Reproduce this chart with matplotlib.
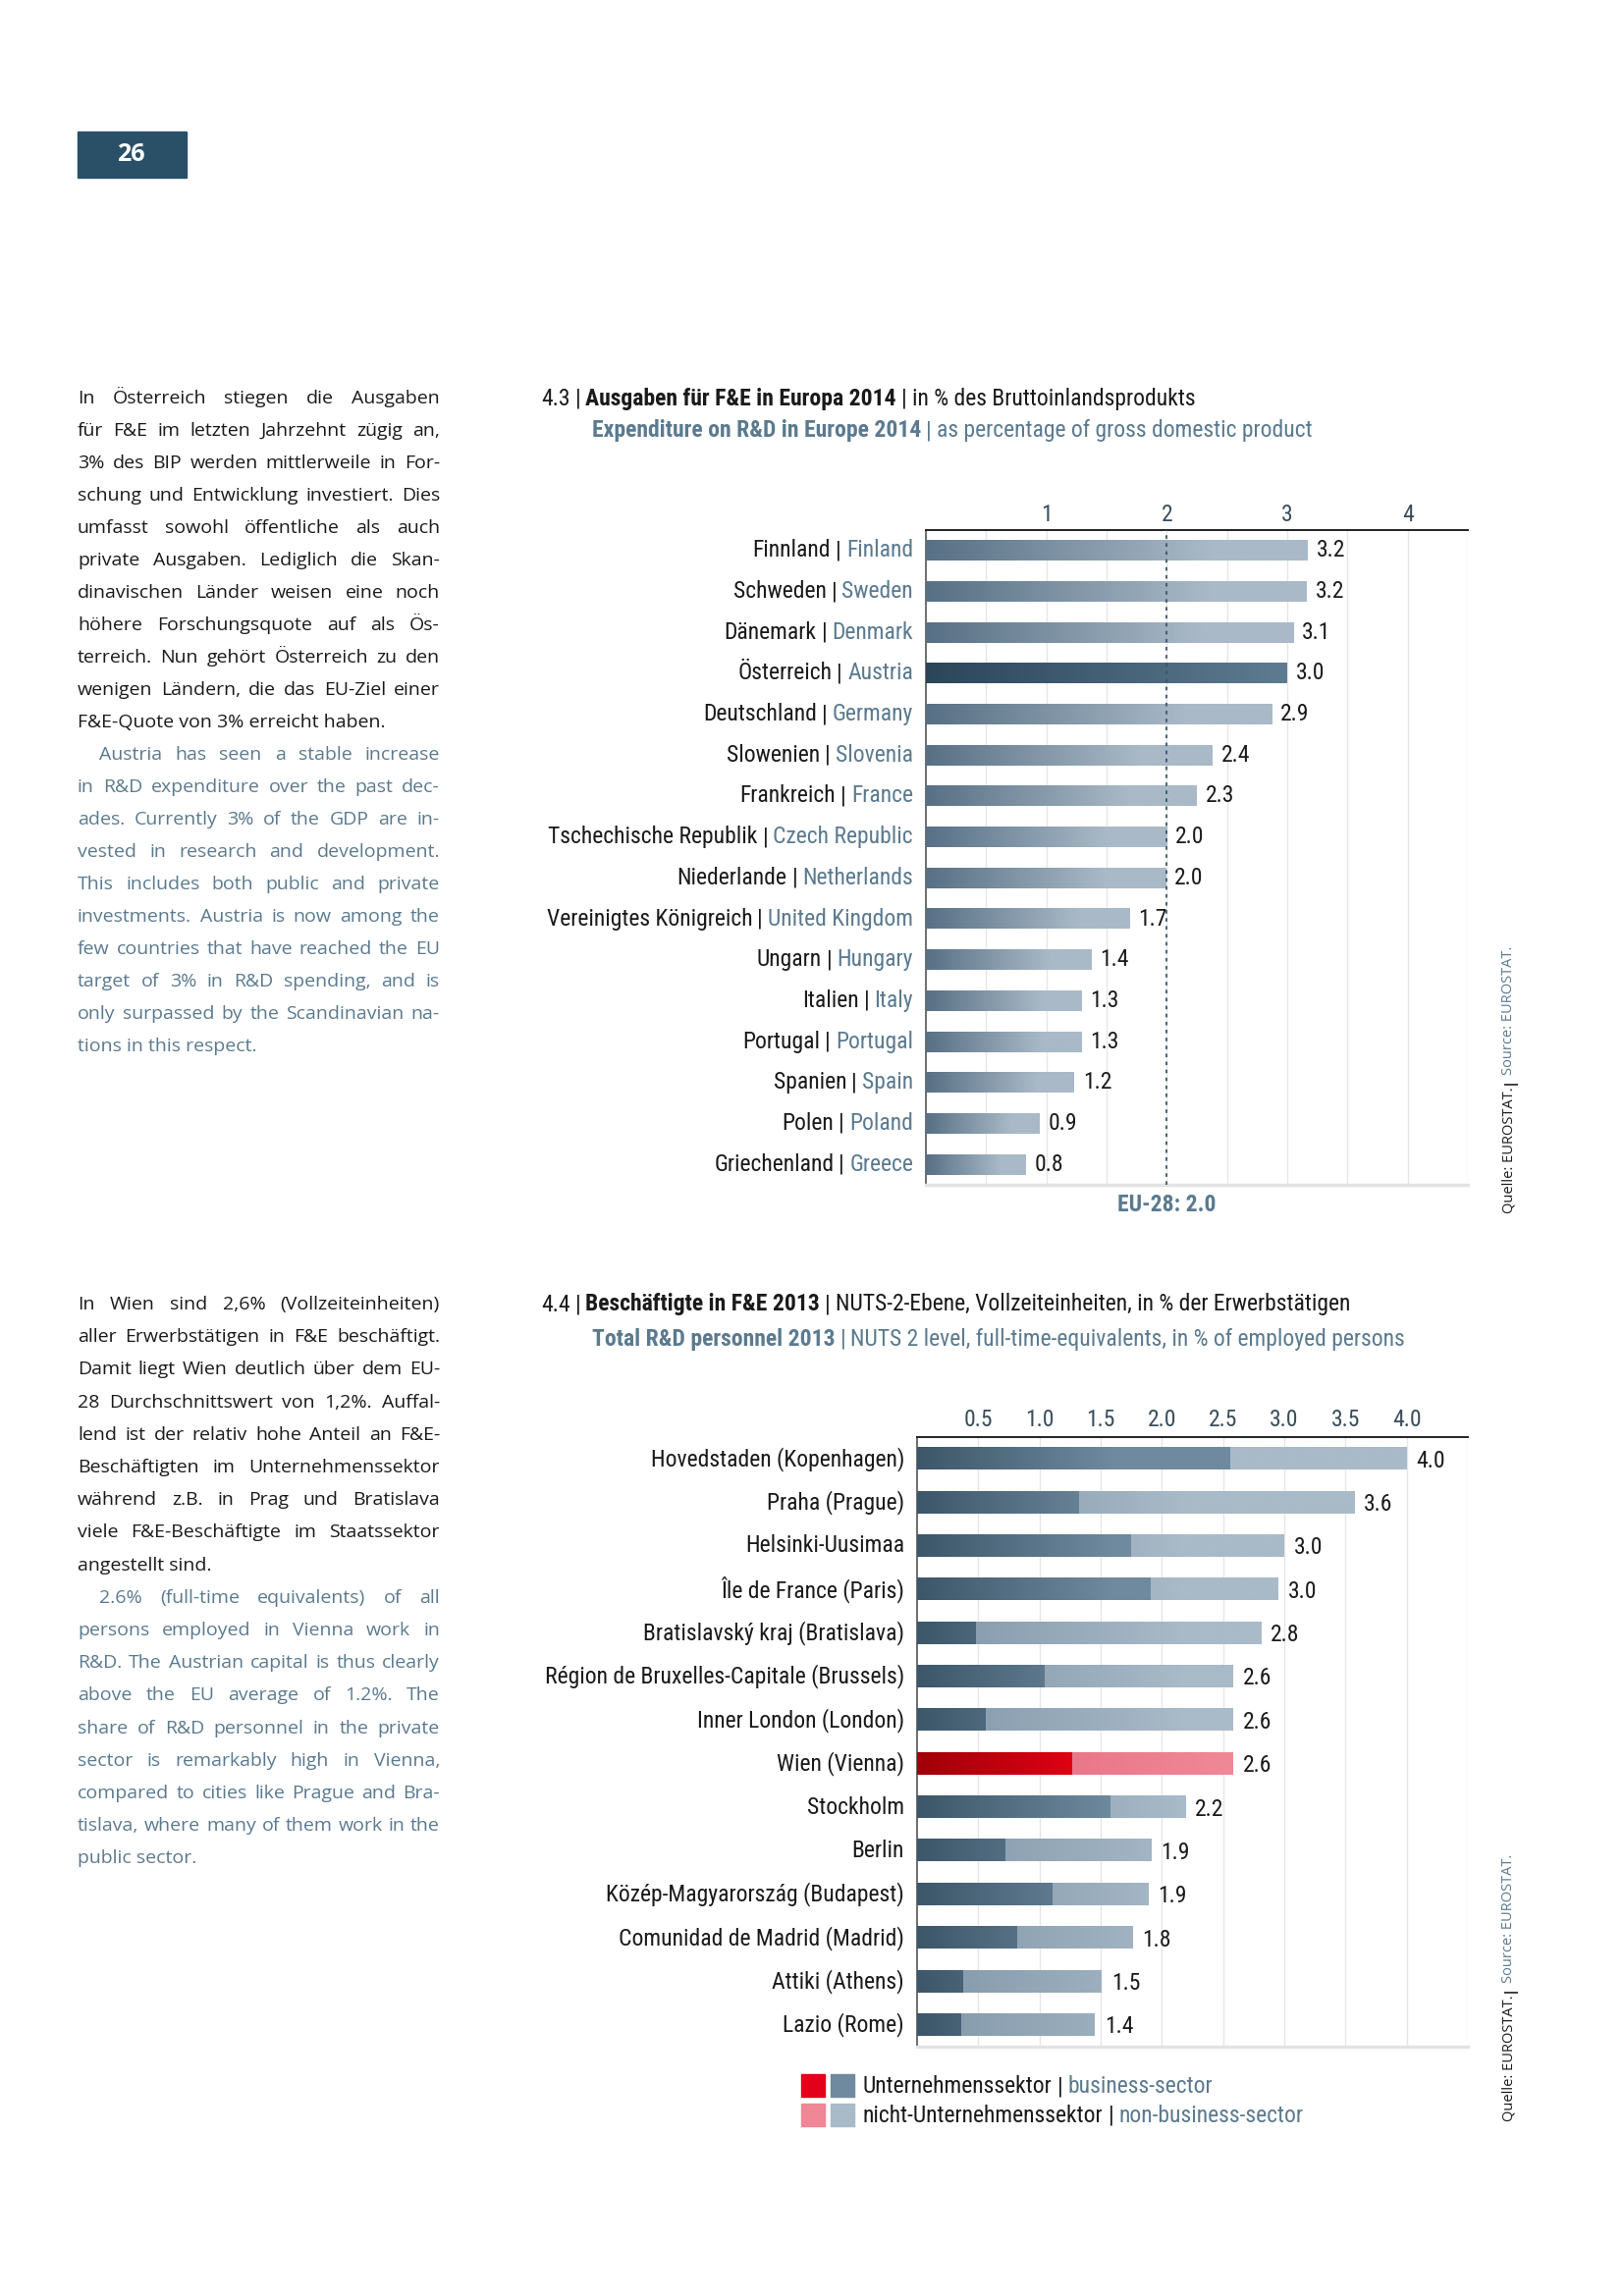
import numpy as np
import matplotlib.pyplot as plt
from matplotlib import font_manager
from matplotlib.colors import LinearSegmentedColormap
from matplotlib.patches import Rectangle

# 4.3 Ausgaben fuer F&E in Europa 2014, in % des BIP
land_de = ["Finnland", "Schweden", "Dänemark", "Österreich", "Deutschland", "Slowenien",
           "Frankreich", "Tschechische Republik", "Niederlande", "Vereinigtes Königreich",
           "Ungarn", "Italien", "Portugal", "Spanien", "Polen", "Griechenland"]
land_en = ["Finland", "Sweden", "Denmark", "Austria", "Germany", "Slovenia", "France",
           "Czech Republic", "Netherlands", "United Kingdom", "Hungary", "Italy",
           "Portugal", "Spain", "Poland", "Greece"]
quote = [3.17, 3.16, 3.05, 3.0, 2.87, 2.38, 2.25, 2.0, 1.99, 1.69, 1.37, 1.29, 1.29, 1.23, 0.94, 0.83]
quote_lbl = ["3.2", "3.2", "3.1", "3.0", "2.9", "2.4", "2.3", "2.0", "2.0", "1.7",
             "1.4", "1.3", "1.3", "1.2", "0.9", "0.8"]
eu28 = 2.0

# 4.4 Beschaeftigte in F&E 2013, NUTS 2, in % der Erwerbstaetigen
regionen = ["Hovedstaden (Kopenhagen)", "Praha (Prague)", "Helsinki-Uusimaa",
            "Île de France (Paris)", "Bratislavský kraj (Bratislava)",
            "Région de Bruxelles-Capitale (Brussels)", "Inner London (London)",
            "Wien (Vienna)", "Stockholm", "Berlin", "Közép-Magyarország (Budapest)",
            "Comunidad de Madrid (Madrid)", "Attiki (Athens)", "Lazio (Rome)"]
unternehmen = [2.56, 1.32, 1.75, 1.91, 0.48, 1.04, 0.56, 1.27, 1.58, 0.72, 1.11, 0.82, 0.38, 0.36]
gesamt = [4.0, 3.57, 3.0, 2.95, 2.81, 2.58, 2.58, 2.58, 2.19, 1.91, 1.89, 1.76, 1.51, 1.45]
gesamt_lbl = ["4.0", "3.6", "3.0", "3.0", "2.8", "2.6", "2.6", "2.6", "2.2", "1.9",
              "1.9", "1.8", "1.5", "1.4"]

text1_de = ["In Österreich stiegen die Ausgaben",
            "für F&E im letzten Jahrzehnt zügig an,",
            "3% des BIP werden mittlerweile in For-",
            "schung und Entwicklung investiert. Dies",
            "umfasst sowohl öffentliche als auch",
            "private Ausgaben. Lediglich die Skan-",
            "dinavischen Länder weisen eine noch",
            "höhere Forschungsquote auf als Ös-",
            "terreich. Nun gehört Österreich zu den",
            "wenigen Ländern, die das EU-Ziel einer",
            "F&E-Quote von 3% erreicht haben."]
text1_en = ["Austria has seen a stable increase",
            "in R&D expenditure over the past dec-",
            "ades. Currently 3% of the GDP are in-",
            "vested in research and development.",
            "This includes both public and private",
            "investments. Austria is now among the",
            "few countries that have reached the EU",
            "target of 3% in R&D spending, and is",
            "only surpassed by the Scandinavian na-",
            "tions in this respect."]
text2_de = ["In Wien sind 2,6% (Vollzeiteinheiten)",
            "aller Erwerbstätigen in F&E beschäftigt.",
            "Damit liegt Wien deutlich über dem EU-",
            "28 Durchschnittswert von 1,2%. Auffal-",
            "lend ist der relativ hohe Anteil an F&E-",
            "Beschäftigten im Unternehmenssektor",
            "während z.B. in Prag und Bratislava",
            "viele F&E-Beschäftigte im Staatssektor",
            "angestellt sind."]
text2_en = ["2.6% (full-time equivalents) of all",
            "persons employed in Vienna work in",
            "R&D. The Austrian capital is thus clearly",
            "above the EU average of 1.2%. The",
            "share of R&D personnel in the private",
            "sector is remarkably high in Vienna,",
            "compared to cities like Prague and Bra-",
            "tislava, where many of them work in the",
            "public sector."]

# fonts
names = {f.name for f in font_manager.fontManager.ttflist}
NARROW = next((n for n in ["Liberation Sans Narrow", "DejaVu Sans Condensed", "Roboto Condensed"]
               if n in names), None)
CS = 17 if NARROW else 14
if NARROW is None:
    NARROW = "Roboto"
BODY = "Open Sans" if "Open Sans" in names else "DejaVu Sans"
plt.rcParams["font.family"] = [NARROW, "DejaVu Sans"]

SLATE = "#5b7a8f"
INK = "#1a1a1a"
TICK = "#3a4d5c"

W, H = 1654, 2339
def fx(x): return x / W
def fy(y): return 1 - y / H

fig = plt.figure(figsize=(W / 100, H / 100), dpi=100)
bg = fig.add_axes([0, 0, 1, 1])
bg.set_axis_off()
bg.set_xlim(0, 1)
bg.set_ylim(0, 1)


def chain(a, parts, xy, xycoords, ha="left", gap=5, offset=(0, 0), rotation=0, **kw):
    # several coloured pieces of text, placed one after the other
    seq = parts[::-1] if ha == "right" else parts
    t, c, w = seq[0]
    if rotation == 90:
        prev = a.annotate(t, xy=xy, xycoords=xycoords, xytext=offset, textcoords="offset pixels",
                          color=c, weight=w, rotation=90, ha="center", va="bottom",
                          annotation_clip=False, **kw)
    else:
        prev = a.annotate(t, xy=xy, xycoords=xycoords, xytext=offset, textcoords="offset pixels",
                          color=c, weight=w, ha=ha, va="center", annotation_clip=False, **kw)
    for t, c, w in seq[1:]:
        if rotation == 90:
            anchor, dxy, al = (0.5, 1), (0, gap), dict(ha="center", va="bottom", rotation=90)
        elif ha == "right":
            anchor, dxy, al = (0, 0), (-gap, 0), dict(ha="right", va="bottom")
        else:
            anchor, dxy, al = (1, 0), (gap, 0), dict(ha="left", va="bottom")
        prev = a.annotate(t, xy=anchor, xycoords=prev, xytext=dxy, textcoords="offset pixels",
                          color=c, weight=w, annotation_clip=False, **al, **kw)


def paragraph(lines, y0, color, x0=79, x1=448, indent=0, lh=33.0, size=14):
    r = fig.canvas.get_renderer()
    for i, line in enumerate(lines):
        y = fy(y0 + i * lh)
        xs = x0 + (indent if i == 0 else 0)
        words = line.split()
        if i == len(lines) - 1:
            bg.text(fx(xs), y, line, color=color, family=BODY, size=size, va="center")
            continue
        arts = [bg.text(0, y, wd, color=color, family=BODY, size=size, va="center") for wd in words]
        widths = [t.get_window_extent(r).width for t in arts]
        gap = (x1 - xs - sum(widths)) / (len(words) - 1)
        x = xs
        for t, wd in zip(arts, widths):
            t.set_x(fx(x))
            x += wd + gap


def gradient(ax, patch, cmap, vals, z=3):
    x0, y0 = patch.get_x(), patch.get_y()
    ax.imshow(np.asarray(vals)[None, :], cmap=cmap, vmin=0, vmax=1, aspect="auto",
              interpolation="bilinear",
              extent=(x0, x0 + patch.get_width(), y0 + patch.get_height(), y0), zorder=z)


def style_axes(ax, n, pad):
    ax.set_xlim(0, 4.5)
    ax.set_ylim(n - 0.5, -0.5)
    ax.set_aspect("auto")
    ax.xaxis.tick_top()
    ax.set_xticks(np.arange(0.5, 4.51, 0.5), minor=True)
    ax.tick_params(which="both", length=0, pad=pad, labelsize=CS, labelcolor=TICK)
    ax.set_yticks([])
    ax.grid(axis="x", which="both", color="#e6e6e6", lw=1)
    ax.set_axisbelow(True)
    ax.spines["right"].set_visible(False)
    ax.spines["top"].set_color("#222222")
    ax.spines["top"].set_linewidth(1.4)
    ax.spines["left"].set_color("#555555")
    ax.spines["left"].set_linewidth(1.2)
    ax.spines["bottom"].set_color("#e3e3e3")
    ax.spines["bottom"].set_linewidth(2.5)


# page number
bg.add_patch(Rectangle((fx(79), fy(181)), 111 / W, 47 / H, color="#2a5068"))
bg.text(fx(133), fy(157), "26", color="white", weight="bold", size=18, family=BODY,
        ha="center", va="center")

# left column text
paragraph(text1_de, 406, INK)
paragraph(text1_en, 406 + 11 * 33.0, SLATE, indent=22)
paragraph(text2_de, 1329, INK, lh=33.2)
paragraph(text2_en, 1329 + 9 * 33.2, SLATE, indent=22, lh=33.2)

# ---- chart 4.3
chain(bg, [("4.3", INK, "normal"), ("|", INK, "normal"),
           ("Ausgaben für F&E in Europa 2014", INK, "bold"), ("|", INK, "normal"),
           ("in % des Bruttoinlandsprodukts", INK, "normal")],
      (fx(551), fy(406)), "axes fraction", size=CS)
chain(bg, [("Expenditure on R&D in Europe 2014", SLATE, "bold"), ("|", SLATE, "normal"),
           ("as percentage of gross domestic product", SLATE, "normal")],
      (fx(603), fy(439)), "axes fraction", size=CS)

ax1 = fig.add_axes([fx(943), fy(1207), (1495 - 943) / W, (1207 - 540) / H])
cm_grey = LinearSegmentedColormap.from_list("grey", ["#587085", "#a9b9c7"])
cm_at = LinearSegmentedColormap.from_list("at", ["#2b4559", "#5e7c90"])
y1 = np.arange(len(land_de))
bars = ax1.barh(y1, quote, height=0.5, color="none", zorder=3)
for i, p in enumerate(bars):
    if land_de[i] == "Österreich":
        gradient(ax1, p, cm_at, np.linspace(0, 1, 256))
    else:
        gradient(ax1, p, cm_grey, np.clip(np.linspace(0, 1, 256) / 0.75, 0, 1))
    ax1.annotate(quote_lbl[i], xy=(p.get_width(), y1[i]), xytext=(9, 0),
                 textcoords="offset pixels", va="center", ha="left", size=CS, color=INK)
    chain(ax1, [(land_de[i], INK, "normal"), ("|", INK, "normal"), (land_en[i], SLATE, "normal")],
          (0, y1[i]), ("axes fraction", "data"), ha="right", offset=(-13, 0), size=CS)
ax1.axvline(eu28, color="#3b5468", ls=(0, (2, 2.5)), lw=1.3, zorder=4)
style_axes(ax1, len(land_de), pad=3)
ax1.set_xticks([1, 2, 3, 4])
ax1.annotate("EU-28: 2.0", xy=(eu28, 0), xycoords=("data", "axes fraction"), xytext=(0, -20),
             textcoords="offset pixels", ha="center", va="center", weight="bold",
             color=SLATE, size=CS, annotation_clip=False)

chain(bg, [("Quelle: EUROSTAT.", INK, "normal"), ("|", INK, "bold"),
           ("Source: EUROSTAT.", SLATE, "normal")],
      (fx(1537), fy(1236)), "axes fraction", rotation=90, gap=2, size=10.5, family=BODY)

# ---- chart 4.4
chain(bg, [("4.4", INK, "normal"), ("|", INK, "normal"),
           ("Beschäftigte in F&E 2013", INK, "bold"), ("|", INK, "normal"),
           ("NUTS-2-Ebene, Vollzeiteinheiten, in % der Erwerbstätigen", INK, "normal")],
      (fx(551), fy(1329)), "axes fraction", size=CS)
chain(bg, [("Total R&D personnel 2013", SLATE, "bold"), ("|", SLATE, "normal"),
           ("NUTS 2 level, full-time-equivalents, in % of employed persons", SLATE, "normal")],
      (fx(603), fy(1364)), "axes fraction", size=CS)

ax2 = fig.add_axes([fx(934), fy(2085), (1495 - 934) / W, (2085 - 1464) / H])
cm_bus = LinearSegmentedColormap.from_list("bus", ["#3c566a", "#6f8a9e"])
cm_non = LinearSegmentedColormap.from_list("non", ["#8197a9", "#a9bac8"])
cm_bus_w = LinearSegmentedColormap.from_list("busw", ["#a00008", "#de0013"])
cm_non_w = LinearSegmentedColormap.from_list("nonw", ["#e9778a", "#ef8997"])
y2 = np.arange(len(regionen))
rest = np.array(gesamt) - np.array(unternehmen)
b_bus = ax2.barh(y2, unternehmen, height=0.5, color="none", zorder=3)
b_non = ax2.barh(y2, rest, left=unternehmen, height=0.5, color="none", zorder=3)
for i in range(len(regionen)):
    pb, pn = b_bus[i], b_non[i]
    if regionen[i].startswith("Wien"):
        gradient(ax2, pb, cm_bus_w, np.linspace(0, 1, 256))
        gradient(ax2, pn, cm_non_w, np.linspace(0, 1, 256))
    else:
        xb = np.linspace(pb.get_x(), pb.get_x() + pb.get_width(), 256)
        xn = np.linspace(pn.get_x(), pn.get_x() + pn.get_width(), 256)
        gradient(ax2, pb, cm_bus, np.clip(xb / 1.6, 0, 1))
        gradient(ax2, pn, cm_non, np.clip(xn / 2.2, 0, 1))
    ax2.annotate(gesamt_lbl[i], xy=(gesamt[i], y2[i]), xytext=(10, -2),
                 textcoords="offset pixels", va="center", ha="left", size=CS, color=INK)
    ax2.annotate(regionen[i], xy=(0, y2[i]), xycoords=("axes fraction", "data"), xytext=(-13, 0),
                 textcoords="offset pixels", va="center", ha="right", size=CS, color=INK,
                 annotation_clip=False)
style_axes(ax2, len(regionen), pad=4)
ax2.set_xticks(np.arange(0.5, 4.01, 0.5))
ax2.set_xticklabels([f"{v:.1f}" for v in np.arange(0.5, 4.01, 0.5)])

# legend
for (x, y, c) in [(816, 2113, "#e2001a"), (846, 2113, "#6f8a9e"),
                  (816, 2143, "#ef8796"), (846, 2143, "#a9bac8")]:
    bg.add_patch(Rectangle((fx(x), fy(y + 23)), 24 / W, 23 / H, color=c))
chain(bg, [("Unternehmenssektor", INK, "normal"), ("|", INK, "normal"),
           ("business-sector", SLATE, "normal")], (fx(879), fy(2126)), "axes fraction", size=CS)
chain(bg, [("nicht-Unternehmenssektor", INK, "normal"), ("|", INK, "normal"),
           ("non-business-sector", SLATE, "normal")], (fx(879), fy(2155)), "axes fraction", size=CS)

chain(bg, [("Quelle: EUROSTAT.", INK, "normal"), ("|", INK, "bold"),
           ("Source: EUROSTAT.", SLATE, "normal")],
      (fx(1537), fy(2161)), "axes fraction", rotation=90, gap=2, size=10.5, family=BODY)

fig.savefig("out.png", dpi=100)
